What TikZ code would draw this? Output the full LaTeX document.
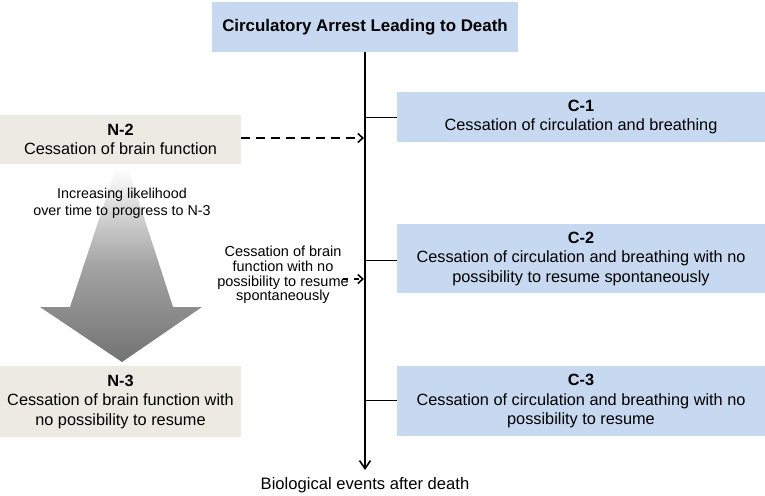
\documentclass[tikz,border=0pt]{standalone}
\usepackage{fontspec}
\setmainfont{Liberation Sans}
\usetikzlibrary{arrows.meta}
\definecolor{cblue}{RGB}{198,217,240}
\definecolor{nbeige}{RGB}{236,234,226}
\begin{document}
\begin{tikzpicture}[x=1pt,y=-1pt,
  box/.style={inner sep=0pt, align=center, font=\fontsize{16.3}{19.5}\selectfont},
  cbox/.style={box, fill=cblue, minimum width=368pt},
  nbox/.style={box, fill=nbeige, minimum width=241pt},
  small/.style={inner sep=0pt, align=center},
  mainline/.style={line width=1.6pt, -{Straight Barb[length=8pt,width=11pt,line width=1.6pt]}},
  branch/.style={line width=0.9pt},
  dasharrow/.style={line width=1.6pt, dash pattern=on 9pt off 6pt, -{Straight Barb[length=5pt,width=9pt,line width=1.6pt]}}
]
\useasboundingbox (0,0) rectangle (765,495);

% boxes
\node[box, fill=cblue, minimum width=306pt, minimum height=50pt, font=\fontsize{16.9}{19.5}\selectfont] (top) at (365,27) {\textbf{Circulatory Arrest Leading to Death}};
\node[cbox, minimum height=50pt] (c1) at (581,117) {\textbf{C-1}\\Cessation of circulation and breathing};
\node[cbox, minimum height=69pt] (c2) at (581,258.5) {\textbf{C-2}\\Cessation of circulation and breathing with no\\possibility to resume spontaneously};
\node[cbox, minimum height=70pt] (c3) at (581,401) {\textbf{C-3}\\Cessation of circulation and breathing with no\\possibility to resume};
\node[nbox, minimum height=49pt] (n2) at (120.5,139.5) {\textbf{N-2}\\Cessation of brain function};
\node[nbox, minimum height=71pt] (n3) at (120.5,401.5) {\textbf{N-3}\\Cessation of brain function with\\no possibility to resume};

% gradient arrow
\shade[top color=white, bottom color=black!55, middle color=black!36]
  (116,168) -- (128,168) -- (173,307) -- (202,307) -- (122,362) -- (40,307) -- (70,307) -- cycle;
\node[small, font=\fontsize{14.3}{17}\selectfont] (inc) at (122,203) {Increasing likelihood\\over time to progress to N-3};

% main axis
\coordinate (bottom) at (365,470);
\draw[mainline] (top.south) -- (bottom);
\node[font=\fontsize{16.6}{19}\selectfont, inner sep=0pt] (bio) at (365,485) {Biological events after death};

% branches
\coordinate (j1) at (365,117);
\coordinate (j2) at (365,260);
\coordinate (j3) at (365,400);
\draw[branch] (j1) -- (c1.west |- j1);
\draw[branch] (j2) -- (c2.west |- j2);
\draw[branch] (j3) -- (c3.west |- j3);

% dashed arrows
\coordinate (m1) at (364,138);
\draw[dasharrow] (n2.east |- m1) -- (m1);

\node[small, font=\fontsize{14.5}{14.7}\selectfont] (side) at (283,275) {Cessation of brain\\function with no\\possibility to resume\\spontaneously};
\coordinate (s2) at (343,279);
\coordinate (m2) at (364,279);
\draw[dasharrow, dash pattern=on 5pt off 6pt] (s2) -- (m2);
\end{tikzpicture}
\end{document}
